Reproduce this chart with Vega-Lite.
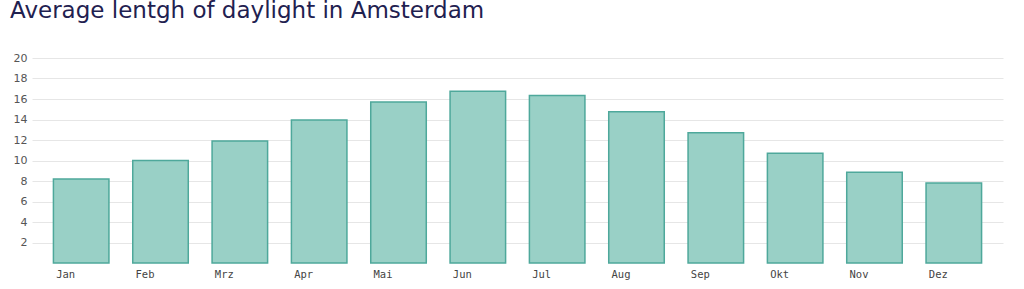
{
  "$schema": "https://vega.github.io/schema/vega-lite/v6.json",
  "width": 971,
  "height": 205,
  "autosize": "none",
  "padding": {"left": 32, "top": 58, "right": 21, "bottom": 26},
  "background": "white",
  "title": {
    "text": "Average lentgh of daylight in Amsterdam",
    "anchor": "start",
    "frame": "group",
    "dx": -22,
    "offset": 11,
    "baseline": "alphabetic",
    "font": "DejaVu Sans",
    "fontSize": 23,
    "fontWeight": "normal",
    "color": "#1f2150"
  },
  "data": {
    "values": [
      {"month": "Jan", "hours": 8.2},
      {"month": "Feb", "hours": 10.0},
      {"month": "Mrz", "hours": 11.9},
      {"month": "Apr", "hours": 13.95},
      {"month": "Mai", "hours": 15.7},
      {"month": "Jun", "hours": 16.75},
      {"month": "Jul", "hours": 16.35},
      {"month": "Aug", "hours": 14.75},
      {"month": "Sep", "hours": 12.7},
      {"month": "Okt", "hours": 10.7},
      {"month": "Nov", "hours": 8.85},
      {"month": "Dez", "hours": 7.8}
    ]
  },
  "mark": {
    "type": "bar",
    "fill": "#99d0c6",
    "stroke": "#4ea89b",
    "strokeWidth": 1.5
  },
  "encoding": {
    "x": {
      "field": "month",
      "type": "nominal",
      "sort": null,
      "scale": {"paddingInner": 0.3, "paddingOuter": 0.27},
      "axis": {
        "title": null,
        "domain": false,
        "ticks": false,
        "labelAngle": 0,
        "labelAlign": "left",
        "labelOffset": -25,
        "labelPadding": 6,
        "labelFont": "DejaVu Sans Mono",
        "labelFontSize": 10.5,
        "labelColor": "#444444"
      }
    },
    "y": {
      "field": "hours",
      "type": "quantitative",
      "scale": {"domain": [0, 20], "nice": false},
      "axis": {
        "title": null,
        "domain": false,
        "ticks": false,
        "values": [2, 4, 6, 8, 10, 12, 14, 16, 18, 20],
        "labelPadding": 5,
        "labelFont": "DejaVu Sans",
        "labelFontSize": 11,
        "labelColor": "#555555",
        "gridColor": "#e6e6e6",
        "gridWidth": 1
      }
    }
  },
  "config": {"view": {"stroke": null}}
}
